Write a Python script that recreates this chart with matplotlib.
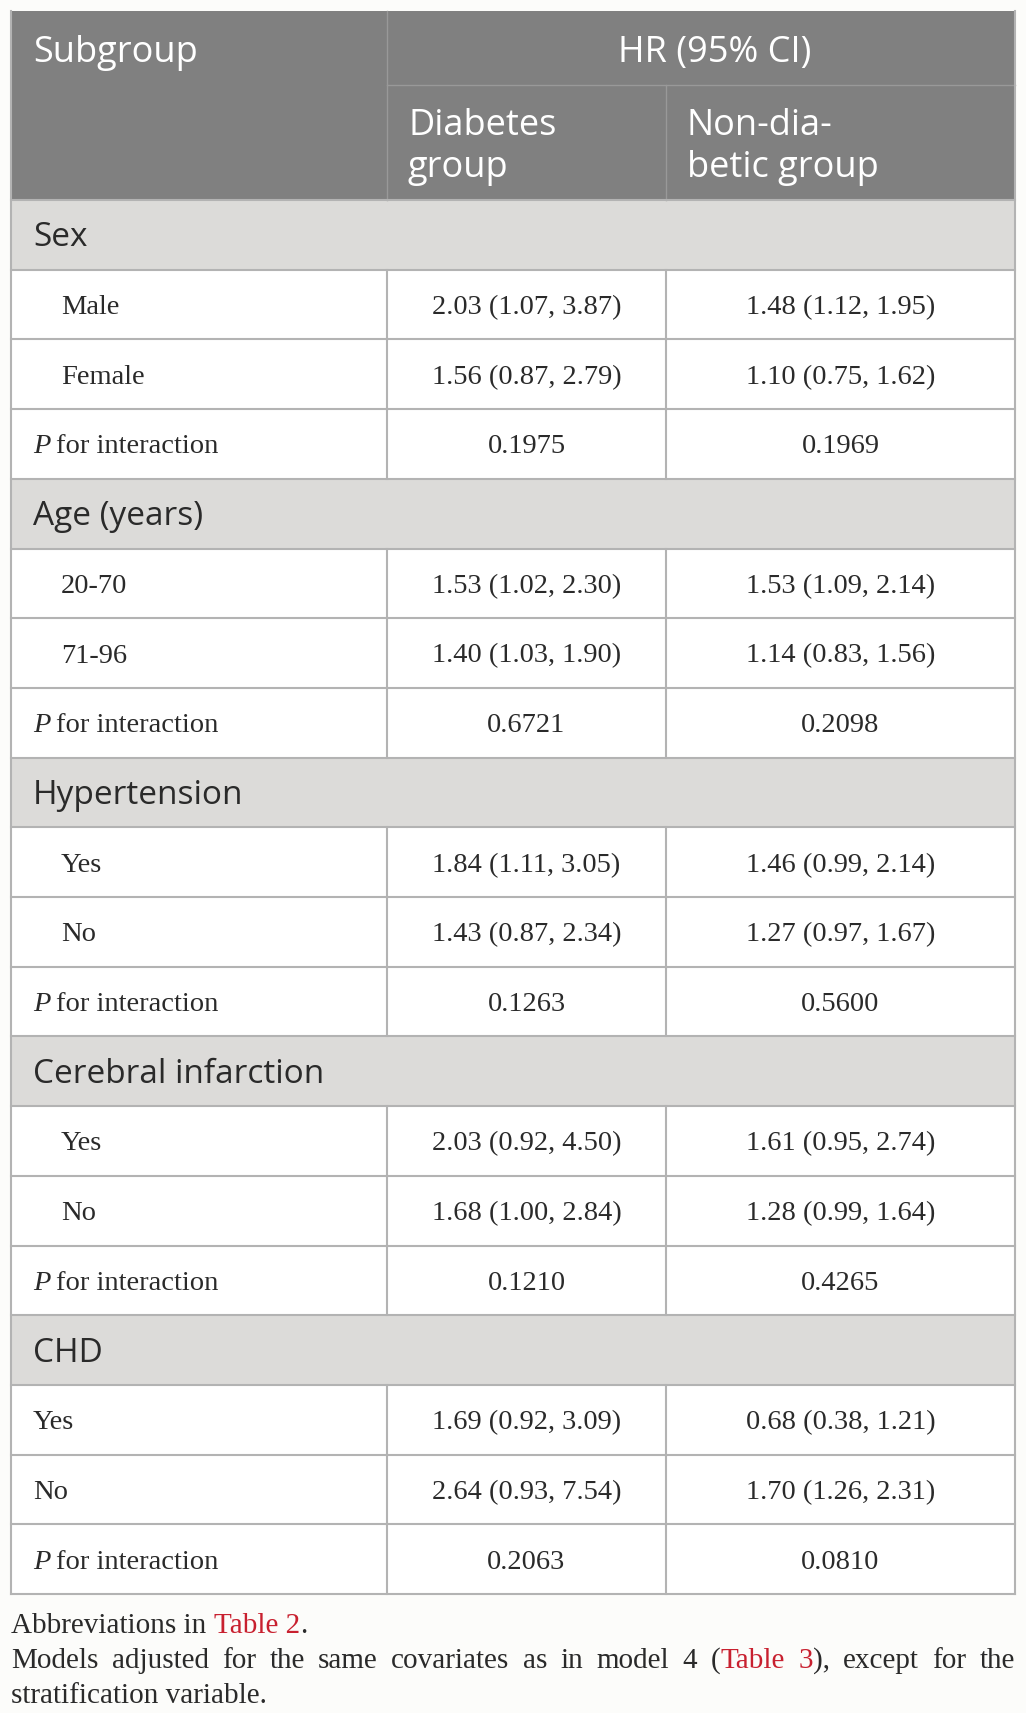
import matplotlib
matplotlib.use("Agg")
import matplotlib.pyplot as plt
from matplotlib.patches import Rectangle

# table content
groups = ['Sex', 'Age (years)', 'Hypertension', 'Cerebral infarction', 'CHD']
levels = [['Male', 'Female'], ['20-70', '71-96'], ['Yes', 'No'], ['Yes', 'No'], ['Yes', 'No']]
diabetes_hr = [['2.03 (1.07, 3.87)', '1.56 (0.87, 2.79)'],
               ['1.53 (1.02, 2.30)', '1.40 (1.03, 1.90)'],
               ['1.84 (1.11, 3.05)', '1.43 (0.87, 2.34)'],
               ['2.03 (0.92, 4.50)', '1.68 (1.00, 2.84)'],
               ['1.69 (0.92, 3.09)', '2.64 (0.93, 7.54)']]
nondiab_hr = [['1.48 (1.12, 1.95)', '1.10 (0.75, 1.62)'],
              ['1.53 (1.09, 2.14)', '1.14 (0.83, 1.56)'],
              ['1.46 (0.99, 2.14)', '1.27 (0.97, 1.67)'],
              ['1.61 (0.95, 2.74)', '1.28 (0.99, 1.64)'],
              ['0.68 (0.38, 1.21)', '1.70 (1.26, 2.31)']]
p_diabetes = ['0.1975', '0.6721', '0.1263', '0.1210', '0.2063']
p_nondiab = ['0.1969', '0.2098', '0.5600', '0.4265', '0.0810']
indent_levels = [True, True, True, True, False]

W, H = 1026, 1713
fig = plt.figure(figsize=(W / 100, H / 100), dpi=100, facecolor='#fcfcfa')
ax = fig.add_axes([0, 0, 1, 1])
ax.set_xlim(0, W)
ax.set_ylim(H, 0)
ax.axis('off')

x0, x1, x2, x3 = 11, 387, 666, 1015
top, hmid, hbot = 11, 85, 200
row_h = (1594 - hbot) / 20

header_bg = '#808080'
group_bg = '#dcdbd9'
line_c = '#b3b3b3'
sans = 'Open Sans'
serif = 'Liberation Serif'
red = '#c8202f'
dark = '#2a2a2a'
fs_data = 20.5
fs_head = 26
fs_group = 24

renderer = fig.canvas.get_renderer()

# table background + header block
ax.add_patch(Rectangle((x0, top), x3 - x0, 1594 - top, color='white', lw=0))
ax.add_patch(Rectangle((x0, top), x3 - x0, hbot - top, color=header_bg, lw=0))
ax.plot([x1, x3], [hmid, hmid], color='#999999', lw=1)
ax.plot([x1, x1], [top, hbot], color='#999999', lw=1)
ax.plot([x2, x2], [hmid, hbot], color='#999999', lw=1)
ax.text(33, 53, 'Subgroup', family=sans, fontsize=fs_head, color='white', va='center')
ax.text(715, 53, 'HR (95% CI)', family=sans, fontsize=fs_head, color='white',
        va='center', ha='center')
ax.text(408, 147, 'Diabetes\ngroup', family=sans, fontsize=fs_head, color='white',
        va='center', linespacing=1.2)
ax.text(687, 147, 'Non-dia-\nbetic group', family=sans, fontsize=fs_head, color='white',
        va='center', linespacing=1.2)

# body
y = hbot
for g, grp in enumerate(groups):
    ax.add_patch(Rectangle((x0, y), x3 - x0, row_h, color=group_bg, lw=0))
    ax.text(33, y + row_h / 2 + 3, grp, family=sans, fontsize=fs_group, color=dark,
            va='center')
    ax.plot([x0, x3], [y, y], color=line_c, lw=1.5)
    y += row_h
    rows = [(levels[g][0], diabetes_hr[g][0], nondiab_hr[g][0], False),
            (levels[g][1], diabetes_hr[g][1], nondiab_hr[g][1], False),
            ('P', p_diabetes[g], p_nondiab[g], True)]
    for label, a, b, is_p in rows:
        ax.plot([x0, x3], [y, y], color=line_c, lw=1.5)
        ax.plot([x1, x1], [y, y + row_h], color=line_c, lw=1.5)
        ax.plot([x2, x2], [y, y + row_h], color=line_c, lw=1.5)
        cy = y + row_h / 2 + 3
        if is_p:
            t = ax.text(33, cy, 'P', family=serif, style='italic', fontsize=fs_data,
                        color=dark, va='center')
            pw = t.get_window_extent(renderer).width
            ax.text(33 + pw + 6, cy, 'for interaction', family=serif, fontsize=fs_data,
                    color=dark, va='center')
        else:
            lx = 61 if indent_levels[g] else 33
            ax.text(lx, cy, label, family=serif, fontsize=fs_data, color=dark, va='center')
        ax.text((x1 + x2) / 2, cy, a, family=serif, fontsize=fs_data, color=dark,
                va='center', ha='center')
        ax.text((x2 + x3) / 2, cy, b, family=serif, fontsize=fs_data, color=dark,
                va='center', ha='center')
        y += row_h
ax.plot([x0, x3], [y, y], color=line_c, lw=1.5)
ax.plot([x0, x0], [top, y], color=line_c, lw=1.5)
ax.plot([x3, x3], [top, y], color=line_c, lw=1.5)

# footnotes
fs_note = 21


def put(x, yy, s, color):
    t = ax.text(x, yy, s, family=serif, fontsize=fs_note, color=color, va='center')
    return t.get_window_extent(renderer).width


xx = x0
xx += put(xx, 1626, 'Abbreviations in ', dark)
xx += put(xx, 1626, 'Table 2', red)
put(xx, 1626, '.', dark)

words = [[('Models', dark)], [('adjusted', dark)], [('for', dark)], [('the', dark)],
         [('same', dark)], [('covariates', dark)], [('as', dark)], [('in', dark)],
         [('model', dark)], [('4', dark)], [('(', dark), ('Table', red)],
         [('3', red), ('),', dark)], [('except', dark)], [('for', dark)], [('the', dark)]]
widths = []
for wd in words:
    w = 0
    for s, c in wd:
        t = ax.text(0, 0, s, family=serif, fontsize=fs_note)
        w += t.get_window_extent(renderer).width
        t.remove()
    widths.append(w)
gap = (x3 - x0 - sum(widths)) / (len(words) - 1)
xx = x0
for wd, w in zip(words, widths):
    px = xx
    for s, c in wd:
        px += put(px, 1661, s, c)
    xx += w + gap
put(x0, 1696, 'stratification variable.', dark)

fig.savefig('out.png', dpi=100, facecolor=fig.get_facecolor())
